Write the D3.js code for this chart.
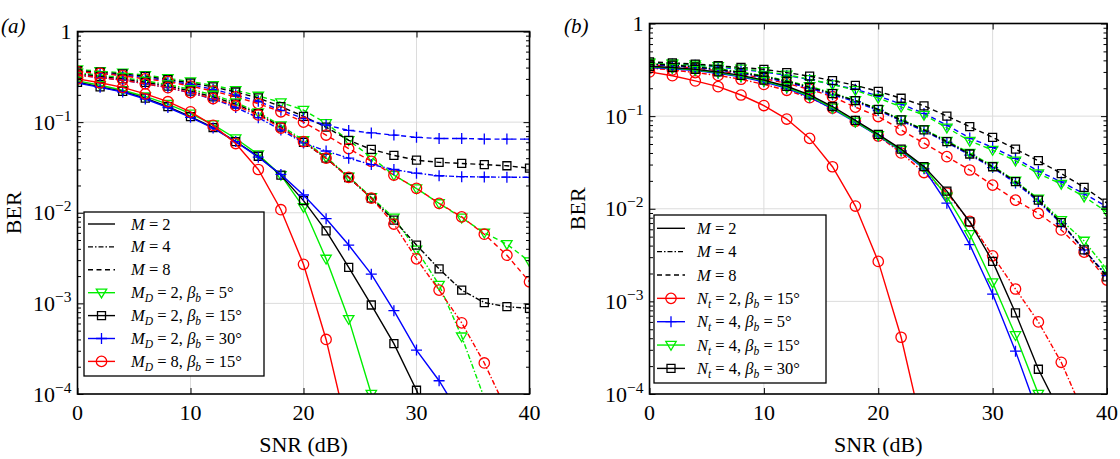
<!DOCTYPE html>
<html>
<head>
<meta charset="utf-8">
<script src="https://cdn.jsdelivr.net/npm/d3@7"></script>
<style>
  body { margin: 0; background: #fff; }
  svg { display: block; font-family: "Liberation Serif", "Times New Roman", serif; }
</style>
</head>
<body>
<svg id="chart" width="1120" height="459"></svg>
<script>
// SNR grid (dB), one marker every 2 dB
const snr = [0, 2, 4, 6, 8, 10, 12, 14, 16, 18, 20, 22, 24, 26, 28, 30, 32, 34, 36, 38, 40];
const xTicks = [0, 10, 20, 30, 40];
const yTicks = [1e-4, 1e-3, 1e-2, 1e-1, 1];

// panel (a): MD / beta_b configs, for M = 2, 4, 8
const aGreenM2 = [0.285, 0.255, 0.225, 0.192, 0.158, 0.124, 0.094, 0.066, 0.044, 0.026, 0.0115, 0.0031, 0.00067, 0.0001, 0.000012];
const aBlackM2 = [0.275, 0.245, 0.218, 0.184, 0.148, 0.115, 0.087, 0.061, 0.042, 0.026, 0.0136, 0.0063, 0.0025, 0.00096, 0.00036, 0.00011, 0.00003];
const aBlueM2  = [0.27, 0.242, 0.215, 0.18, 0.145, 0.113, 0.086, 0.061, 0.041, 0.0265, 0.0157, 0.0086, 0.0044, 0.0021, 0.00083, 0.000305, 0.00014, 0.000055];
const aRedM2   = [0.30, 0.272, 0.242, 0.205, 0.168, 0.13, 0.092, 0.058, 0.03, 0.0108, 0.0027, 0.0004, 0.000035];

const aGreenM4 = [0.35, 0.33, 0.31, 0.285, 0.26, 0.23, 0.2, 0.165, 0.128, 0.092, 0.063, 0.041, 0.025, 0.0148, 0.0088, 0.0039, 0.0016, 0.00043, 0.00009, 0.00001];
const aBlackM4 = [0.34, 0.32, 0.30, 0.275, 0.25, 0.22, 0.19, 0.158, 0.124, 0.088, 0.06, 0.04, 0.0245, 0.0145, 0.0083, 0.0044, 0.0024, 0.0014, 0.00102, 0.00092, 0.00088];
const aBlueM4  = [0.33, 0.31, 0.29, 0.265, 0.24, 0.21, 0.18, 0.145, 0.112, 0.082, 0.059, 0.048, 0.04, 0.034, 0.03, 0.0273, 0.0256, 0.025, 0.0248, 0.0247, 0.0246];
const aRedM4   = [0.33, 0.31, 0.29, 0.265, 0.24, 0.212, 0.182, 0.152, 0.12, 0.086, 0.0608, 0.04, 0.0246, 0.0145, 0.0075, 0.0031, 0.0014, 0.00061, 0.00022, 0.000065];

const aGreenM8 = [0.38, 0.365, 0.35, 0.33, 0.305, 0.28, 0.255, 0.225, 0.195, 0.165, 0.136, 0.097, 0.063, 0.041, 0.026, 0.0185, 0.0127, 0.0088, 0.006, 0.0045, 0.0029];
const aBlackM8 = [0.37, 0.355, 0.34, 0.32, 0.295, 0.27, 0.245, 0.215, 0.185, 0.148, 0.116, 0.088, 0.063, 0.05, 0.043, 0.038, 0.036, 0.035, 0.034, 0.033, 0.031];
const aBlueM8  = [0.36, 0.345, 0.33, 0.31, 0.285, 0.26, 0.23, 0.2, 0.17, 0.135, 0.11, 0.093, 0.081, 0.076, 0.072, 0.068, 0.066, 0.066, 0.065, 0.065, 0.065];
const aRedM8   = [0.36, 0.345, 0.325, 0.30, 0.28, 0.25, 0.22, 0.19, 0.16, 0.13, 0.10, 0.072, 0.051, 0.037, 0.026, 0.0186, 0.0127, 0.009, 0.0058, 0.0034, 0.00173];

// panel (b): Nt / beta_b configs
const bRedM2   = [0.30, 0.273, 0.24, 0.208, 0.169, 0.13, 0.093, 0.0575, 0.0284, 0.0107, 0.0027, 0.00041, 0.000035];
const bBlueM2  = [0.335, 0.325, 0.31, 0.29, 0.265, 0.235, 0.2, 0.16, 0.12, 0.086, 0.061, 0.042, 0.027, 0.0115, 0.0041, 0.0012, 0.00029, 0.00006];
const bGreenM2 = [0.34, 0.33, 0.315, 0.295, 0.27, 0.24, 0.205, 0.165, 0.123, 0.087, 0.062, 0.043, 0.028, 0.0135, 0.0053, 0.0016, 0.00043, 0.0001, 0.000015];
const bBlackM2 = [0.345, 0.335, 0.32, 0.3, 0.275, 0.245, 0.21, 0.17, 0.127, 0.09, 0.0635, 0.044, 0.0285, 0.0155, 0.0072, 0.0027, 0.00075, 0.000185, 0.00006];

const bRedM4   = [0.33, 0.315, 0.295, 0.275, 0.25, 0.22, 0.19, 0.158, 0.122, 0.088, 0.061, 0.04, 0.0246, 0.0148, 0.0073, 0.0031, 0.00136, 0.0006, 0.00022, 0.00006];
const bBlueM4  = [0.36, 0.35, 0.335, 0.315, 0.29, 0.263, 0.233, 0.2, 0.17, 0.143, 0.115, 0.089, 0.069, 0.052, 0.038, 0.0278, 0.019, 0.012, 0.0069, 0.0036, 0.0019];
const bGreenM4 = [0.37, 0.36, 0.345, 0.325, 0.30, 0.272, 0.242, 0.21, 0.178, 0.148, 0.119, 0.092, 0.072, 0.054, 0.04, 0.029, 0.02, 0.0128, 0.0075, 0.0045, 0.0022];
const bBlackM4 = [0.365, 0.355, 0.34, 0.32, 0.295, 0.268, 0.238, 0.205, 0.175, 0.147, 0.118, 0.091, 0.071, 0.053, 0.039, 0.0284, 0.0196, 0.0124, 0.0071, 0.0036, 0.00184];

const bRedM8   = [0.36, 0.345, 0.33, 0.31, 0.285, 0.255, 0.225, 0.195, 0.162, 0.125, 0.099, 0.071, 0.051, 0.0365, 0.0262, 0.018, 0.0124, 0.0089, 0.0059, 0.0034, 0.0017];
const bBlueM8  = [0.375, 0.365, 0.355, 0.34, 0.32, 0.30, 0.275, 0.248, 0.22, 0.195, 0.165, 0.135, 0.107, 0.08, 0.058, 0.046, 0.035, 0.0255, 0.0195, 0.0145, 0.0105];
const bGreenM8 = [0.38, 0.37, 0.36, 0.345, 0.325, 0.305, 0.28, 0.25, 0.22, 0.19, 0.157, 0.126, 0.103, 0.075, 0.054, 0.043, 0.033, 0.024, 0.0185, 0.0135, 0.0092];
const bBlackM8 = [0.385, 0.375, 0.365, 0.35, 0.335, 0.32, 0.295, 0.27, 0.242, 0.215, 0.185, 0.156, 0.129, 0.10, 0.077, 0.059, 0.044, 0.033, 0.024, 0.017, 0.0115];

const C = { green: '#00ee00', black: '#000', blue: '#0000ff', red: '#ff0000' };
const dashes = { 2: null, 4: '5,2,1.5,2', 8: '5,3.5' };

// legend label pieces: [text, style] with style i = italic, s = italic subscript
const legA = [
  { dash: 2, label: [['M', 'i'], [' = 2']] },
  { dash: 4, label: [['M', 'i'], [' = 4']] },
  { dash: 8, label: [['M', 'i'], [' = 8']] },
  { color: 'green', marker: 'tri', label: [['M', 'i'], ['D', 's'], [' = 2, '], ['β', 'i'], ['b', 's'], [' = 5°']] },
  { color: 'black', marker: 'sq', label: [['M', 'i'], ['D', 's'], [' = 2, '], ['β', 'i'], ['b', 's'], [' = 15°']] },
  { color: 'blue', marker: 'plus', label: [['M', 'i'], ['D', 's'], [' = 2, '], ['β', 'i'], ['b', 's'], [' = 30°']] },
  { color: 'red', marker: 'circ', label: [['M', 'i'], ['D', 's'], [' = 8, '], ['β', 'i'], ['b', 's'], [' = 15°']] }
];
const legB = [
  { dash: 2, label: [['M', 'i'], [' = 2']] },
  { dash: 4, label: [['M', 'i'], [' = 4']] },
  { dash: 8, label: [['M', 'i'], [' = 8']] },
  { color: 'red', marker: 'circ', label: [['N', 'i'], ['t', 's'], [' = 2, '], ['β', 'i'], ['b', 's'], [' = 15°']] },
  { color: 'blue', marker: 'plus', label: [['N', 'i'], ['t', 's'], [' = 4, '], ['β', 'i'], ['b', 's'], [' = 5°']] },
  { color: 'green', marker: 'tri', label: [['N', 'i'], ['t', 's'], [' = 4, '], ['β', 'i'], ['b', 's'], [' = 15°']] },
  { color: 'black', marker: 'sq', label: [['N', 'i'], ['t', 's'], [' = 4, '], ['β', 'i'], ['b', 's'], [' = 30°']] }
];

const panels = [
  {
    tag: '(a)', tagX: 1, left: 77.5, right: 529.5, top: 31.5, bottom: 394, berX: 14,
    series: [
      [aGreenM8, 'green', 'tri', 8], [aBlackM8, 'black', 'sq', 8], [aBlueM8, 'blue', 'plus', 8], [aRedM8, 'red', 'circ', 8],
      [aGreenM4, 'green', 'tri', 4], [aBlackM4, 'black', 'sq', 4], [aBlueM4, 'blue', 'plus', 4], [aRedM4, 'red', 'circ', 4],
      [aGreenM2, 'green', 'tri', 2], [aBlackM2, 'black', 'sq', 2], [aBlueM2, 'blue', 'plus', 2], [aRedM2, 'red', 'circ', 2]
    ],
    legend: { x: 84, y: 212, w: 180, h: 164, rowY: 224, step: 22.9, lineX: 88, lineW: 27, textX: 131, items: legA }
  },
  {
    tag: '(b)', tagX: 564, left: 649.5, right: 1107, top: 23.5, bottom: 394, berX: 578,
    series: [
      [bRedM8, 'red', 'circ', 8], [bBlueM8, 'blue', 'plus', 8], [bGreenM8, 'green', 'tri', 8], [bBlackM8, 'black', 'sq', 8],
      [bRedM4, 'red', 'circ', 4], [bBlueM4, 'blue', 'plus', 4], [bGreenM4, 'green', 'tri', 4], [bBlackM4, 'black', 'sq', 4],
      [bRedM2, 'red', 'circ', 2], [bBlueM2, 'blue', 'plus', 2], [bGreenM2, 'green', 'tri', 2], [bBlackM2, 'black', 'sq', 2]
    ],
    legend: { x: 654, y: 215, w: 172, h: 168, rowY: 228.3, step: 23.35, lineX: 657, lineW: 28, textX: 697, items: legB }
  }
];

const markerPath = {
  tri: 'M-5.2,-3.6L5.2,-3.6L0,5.2Z',
  sq: 'M-4,-4H4V4H-4Z',
  plus: 'M-5.5,0H5.5M0,-5.5V5.5',
  circ: 'M5.2,0A5.2,5.2 0 1,1 -5.2,0A5.2,5.2 0 1,1 5.2,0Z'
};

const svg = d3.select('#chart');
svg.append('rect').attr('width', 1120).attr('height', 459).attr('fill', '#fff');

panels.forEach((p, pi) => {
  const x = d3.scaleLinear().domain([0, 40]).range([p.left, p.right]);
  const y = d3.scaleLog().domain([1e-4, 1]).range([p.bottom, p.top]);
  const g = svg.append('g');

  // grid
  g.append('g').selectAll('line').data(xTicks.slice(1, -1)).join('line')
    .attr('x1', d => x(d)).attr('x2', d => x(d)).attr('y1', p.top).attr('y2', p.bottom)
    .attr('stroke', '#dcdcdc').attr('stroke-width', 1);
  g.append('g').selectAll('line').data(yTicks.slice(1, -1)).join('line')
    .attr('y1', d => y(d)).attr('y2', d => y(d)).attr('x1', p.left).attr('x2', p.right)
    .attr('stroke', '#dcdcdc').attr('stroke-width', 1);

  // curves
  const clipId = 'clip' + pi;
  svg.append('clipPath').attr('id', clipId).append('rect')
    .attr('x', p.left).attr('y', p.top).attr('width', p.right - p.left).attr('height', p.bottom - p.top);
  const plot = g.append('g').attr('clip-path', `url(#${clipId})`);
  const line = d3.line().x(d => x(d[0])).y(d => y(d[1]));

  p.series.forEach(([vals, col, mk, m]) => {
    const pts = vals.map((v, i) => [snr[i], v]);
    const s = plot.append('g');
    s.append('path').datum(pts).attr('d', line)
      .attr('fill', 'none').attr('stroke', C[col]).attr('stroke-width', 1.4)
      .attr('stroke-dasharray', dashes[m]);
    s.selectAll('path.mk').data(pts).join('path').attr('class', 'mk')
      .attr('transform', d => `translate(${x(d[0])},${y(d[1])})`)
      .attr('d', markerPath[mk])
      .attr('fill', 'none').attr('stroke', C[col]).attr('stroke-width', 1.3);
  });

  // axes: ticks pointing inward on all four sides
  const minor = [];
  yTicks.slice(0, -1).forEach(d => { for (let k = 2; k <= 9; k++) minor.push(k * d); });
  const axStyle = sel => {
    sel.select('.domain').remove();
    sel.selectAll('line').attr('stroke', '#000').attr('stroke-width', 1);
  };
  g.append('g').attr('transform', `translate(0,${p.bottom})`)
    .call(d3.axisBottom(x).tickValues(xTicks).tickSize(-6).tickFormat('')).call(axStyle);
  g.append('g').attr('transform', `translate(0,${p.top})`)
    .call(d3.axisTop(x).tickValues(xTicks).tickSize(-6).tickFormat('')).call(axStyle);
  g.append('g').attr('transform', `translate(${p.left},0)`)
    .call(d3.axisLeft(y).tickValues(yTicks).tickSize(-6).tickFormat('')).call(axStyle);
  g.append('g').attr('transform', `translate(${p.right},0)`)
    .call(d3.axisRight(y).tickValues(yTicks).tickSize(-6).tickFormat('')).call(axStyle);
  g.append('g').attr('transform', `translate(${p.left},0)`)
    .call(d3.axisLeft(y).tickValues(minor).tickSize(-3.5).tickFormat('')).call(axStyle);
  g.append('g').attr('transform', `translate(${p.right},0)`)
    .call(d3.axisRight(y).tickValues(minor).tickSize(-3.5).tickFormat('')).call(axStyle);

  g.append('rect').attr('x', p.left).attr('y', p.top)
    .attr('width', p.right - p.left).attr('height', p.bottom - p.top)
    .attr('fill', 'none').attr('stroke', '#000').attr('stroke-width', 1.6);

  // tick labels
  g.append('g').selectAll('text').data(xTicks).join('text')
    .attr('x', d => x(d)).attr('y', p.bottom + 26)
    .attr('text-anchor', 'middle').attr('font-size', 22).text(d => d);
  const yl = g.append('g').selectAll('text').data(yTicks).join('text')
    .attr('x', p.left - 6).attr('y', d => y(d) + 7.5)
    .attr('text-anchor', 'end').attr('font-size', 22);
  yl.each(function (d) {
    const t = d3.select(this);
    const e = Math.round(Math.log10(d));
    if (e === 0) { t.text('1'); return; }
    t.append('tspan').text('10');
    t.append('tspan').attr('dy', -9).attr('font-size', 15.5).text('\u2212' + (-e));
  });

  // axis titles and panel tag
  g.append('text').attr('x', (p.left + p.right) / 2).attr('y', 452)
    .attr('text-anchor', 'middle').attr('font-size', 22).text('SNR (dB)');
  g.append('text').attr('transform', `translate(${p.berX + 7},${(p.top + p.bottom) / 2}) rotate(-90)`)
    .attr('text-anchor', 'middle').attr('font-size', 22).text('BER');
  g.append('text').attr('x', p.tagX).attr('y', 33)
    .attr('font-size', 21).attr('font-style', 'italic').text(p.tag);

  // legend
  const L = p.legend;
  const lg = g.append('g');
  lg.append('rect').attr('x', L.x).attr('y', L.y).attr('width', L.w).attr('height', L.h)
    .attr('fill', '#fff').attr('stroke', '#000').attr('stroke-width', 1.3);
  L.items.forEach((it, i) => {
    const cy = L.rowY + i * L.step;
    const col = it.color ? C[it.color] : '#000';
    lg.append('line').attr('x1', L.lineX).attr('x2', L.lineX + L.lineW).attr('y1', cy).attr('y2', cy)
      .attr('stroke', col).attr('stroke-width', 1.4)
      .attr('stroke-dasharray', it.dash ? dashes[it.dash] : null);
    if (it.marker) {
      lg.append('path').attr('transform', `translate(${L.lineX + L.lineW / 2},${cy})`)
        .attr('d', markerPath[it.marker]).attr('fill', 'none').attr('stroke', col).attr('stroke-width', 1.3);
    }
    const tx = lg.append('text').attr('x', L.textX).attr('y', cy + 5.5).attr('font-size', 16.5);
    let sub = false;
    it.label.forEach(([s, st]) => {
      const ts = tx.append('tspan').text(s);
      if (st === 'i' || st === 's') ts.attr('font-style', 'italic');
      if (st === 's') { ts.attr('font-size', 11.5).attr('dy', 4); sub = true; }
      else if (sub) { ts.attr('dy', -4); sub = false; }
    });
  });
});
</script>
</body>
</html>
